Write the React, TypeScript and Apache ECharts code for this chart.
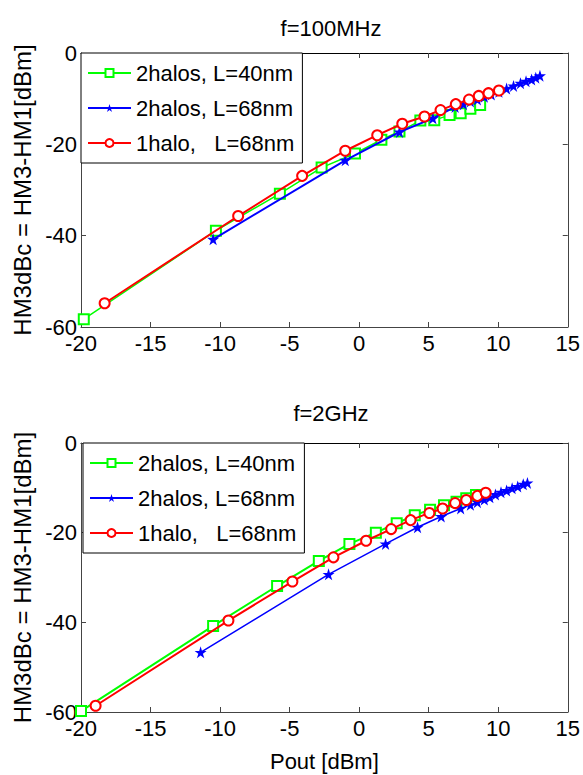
import React, { useEffect, useRef } from "react";
import * as echarts from "echarts";

const NAMES = ["2halos, L=40nm", "2halos, L=68nm", "1halo,   L=68nm"];
const TITLES = ["f=100MHz", "f=2GHz"];
const Y_NAME = "HM3dBc = HM3-HM1[dBm]";
const X_NAME = "Pout [dBm]";

// f=100MHz
const top40: number[][] = [
  [-19.8, -58.3], [-10.3, -38.9], [-5.7, -30.8], [-2.7, -25.1], [-0.3, -22.0],
  [1.6, -19.0], [2.9, -17.2], [4.4, -14.8], [5.4, -14.7], [6.5, -13.6],
  [7.3, -13.2], [8.0, -12.2], [8.7, -11.4],
];
const top68two: number[][] = [
  [-10.5, -40.8], [-1.0, -23.5], [2.9, -17.3], [5.3, -14.3], [6.9, -11.8],
  [7.5, -11.2], [8.0, -10.6], [8.5, -10.2], [9.0, -9.6], [9.5, -9.1],
  [10.05, -8.5], [10.6, -7.8], [11.1, -7.2], [11.6, -6.6], [12.0, -6.2],
  [12.4, -5.8], [12.7, -5.4], [13.0, -5.0],
];
const top68one: number[][] = [
  [-18.3, -54.8], [-8.7, -35.7], [-4.1, -26.9], [-1.0, -21.4], [1.3, -18.0],
  [3.1, -15.5], [4.7, -13.9], [5.85, -12.5], [6.95, -11.2], [7.9, -10.2],
  [8.6, -9.4], [9.3, -8.8], [10.05, -8.2],
];

// f=2GHz
const bot40: number[][] = [
  [-20.0, -59.8], [-10.5, -40.8], [-5.9, -31.9], [-2.9, -26.3], [-0.7, -22.5],
  [1.2, -20.0], [2.7, -17.9], [4.0, -16.1], [5.1, -14.9], [6.1, -13.9],
  [7.0, -13.1], [7.7, -12.3], [8.4, -11.6],
];
const bot68two: number[][] = [
  [-11.4, -46.7], [-2.2, -29.3], [1.9, -22.5], [4.2, -18.8], [5.9, -16.4],
  [7.3, -14.6], [8.0, -13.8], [8.5, -13.2], [9.0, -12.6], [9.4, -12.1],
  [9.8, -11.5], [10.2, -11.0], [10.6, -10.6], [11.0, -10.1], [11.4, -9.7],
  [11.8, -9.2], [12.1, -8.9],
];
const bot68one: number[][] = [
  [-18.95, -58.6], [-9.4, -39.6], [-4.8, -30.9], [-1.85, -25.5], [0.5, -21.8],
  [2.3, -19.2], [3.7, -17.2], [5.05, -15.6], [6.0, -14.6], [6.9, -13.4],
  [7.7, -12.7], [8.5, -11.8], [9.1, -11.1],
];

const COLORS = ["#00ff00", "#0000ff", "#ff0000"];
const STAR =
  "path://M12,0 L14.8,8.6 L24,8.6 L16.6,14 L19.4,22.8 L12,17.4 L4.6,22.8 L7.4,14 L0,8.6 L9.2,8.6 Z";
const FONT = "Liberation Sans";

export default function App() {
  const ref = useRef<HTMLDivElement>(null);
  useEffect(() => {
    if (!ref.current) return;
    const chart = echarts.init(ref.current, null, { renderer: "svg" });
    const axisColor = "#444";
    const grids = [
      { left: 81, top: 53, width: 490, height: 274 },
      { left: 81, top: 443, width: 490, height: 269 },
    ];
    const xAxes: any[] = [];
    const yAxes: any[] = [];
    [0, 1].forEach((g) => {
      xAxes.push({
        type: "value",
        gridIndex: g,
        min: -20,
        max: 15,
        interval: 5,
        position: "bottom",
        splitLine: { show: false },
        axisLine: { onZero: false, lineStyle: { color: axisColor, width: 1 } },
        axisTick: { inside: true, length: 5, lineStyle: { color: axisColor } },
        axisLabel: { fontSize: 22, lineHeight: 16, color: "#000", fontFamily: FONT, margin: 8 },
        name: g === 1 ? X_NAME : "",
        nameLocation: "middle",
        nameGap: 38,
        nameTextStyle: { fontSize: 22, color: "#000", fontFamily: FONT },
      });
      xAxes.push({
        type: "value",
        gridIndex: g,
        min: -20,
        max: 15,
        interval: 5,
        position: "top",
        splitLine: { show: false },
        axisLine: { onZero: false, lineStyle: { color: "#000", width: 1 } },
        axisTick: { inside: true, length: 5, lineStyle: { color: axisColor } },
        axisLabel: { show: false },
      });
      yAxes.push({
        type: "value",
        gridIndex: g,
        min: -60,
        max: 0,
        interval: 20,
        position: "left",
        splitLine: { show: false },
        axisLine: { onZero: false, lineStyle: { color: axisColor, width: 1 } },
        axisTick: { inside: true, length: 5, lineStyle: { color: axisColor } },
        axisLabel: { fontSize: 22, lineHeight: 16, color: "#000", fontFamily: FONT, margin: 4 },
        name: Y_NAME,
        nameLocation: "middle",
        nameGap: 46,
        nameTextStyle: { fontSize: 24, color: "#000", fontFamily: FONT },
      });
      yAxes.push({
        type: "value",
        gridIndex: g,
        min: -60,
        max: 0,
        interval: 20,
        position: "right",
        splitLine: { show: false },
        axisLine: { onZero: false, lineStyle: { color: axisColor, width: 1 } },
        axisTick: { inside: true, length: 5, lineStyle: { color: axisColor } },
        axisLabel: { show: false },
      });
    });

    const mk = (name: string, data: number[][], g: number, idx: number, width: number) => {
      const symbols = ["emptyRect", STAR, "emptyCircle"];
      const sizes = [10, 12, 10];
      return {
        type: "line",
        name,
        data,
        xAxisIndex: g * 2,
        yAxisIndex: g * 2,
        symbol: symbols[idx],
        symbolSize: sizes[idx],
        showSymbol: true,
        color: COLORS[idx],
        itemStyle: { color: COLORS[idx], borderWidth: 1.5 },
        lineStyle: { color: COLORS[idx], width },
        z: 2 + idx,
      };
    };

    const legendCommon = {
      orient: "vertical",
      data: NAMES,
      backgroundColor: "#fff",
      borderColor: "#000",
      borderWidth: 1,
      borderRadius: 0,
      itemWidth: 43,
      itemHeight: 10,
      itemGap: 9,
      selectedMode: false,
      textStyle: { fontSize: 22, color: "#000", fontFamily: FONT, lineHeight: 26 },
    };

    chart.setOption({
      animation: false,
      backgroundColor: "#fff",
      title: [
        {
          text: TITLES[0],
          left: 326,
          top: 12,
          textAlign: "center",
          textStyle: { fontSize: 22, fontWeight: "normal", color: "#000", fontFamily: FONT },
        },
        {
          text: TITLES[1],
          left: 326,
          top: 397,
          textAlign: "center",
          textStyle: { fontSize: 22, fontWeight: "normal", color: "#000", fontFamily: FONT },
        },
      ],
      legend: [
        { ...legendCommon, left: 81, top: 53, padding: [7, 8, 7, 6] },
        { ...legendCommon, left: 83, top: 443, padding: [7, 8, 7, 6] },
      ],
      grid: grids,
      xAxis: xAxes,
      yAxis: yAxes,
      series: [
        mk(NAMES[0], top40, 0, 0, 1.5),
        mk(NAMES[1], top68two, 0, 1, 2),
        mk(NAMES[2], top68one, 0, 2, 2),
        mk(NAMES[0], bot40, 1, 0, 2),
        mk(NAMES[1], bot68two, 1, 1, 1.5),
        mk(NAMES[2], bot68one, 1, 2, 2),
      ],
    });
    return () => chart.dispose();
  }, []);
  return (
    <div
      ref={ref}
      style={{ position: "absolute", left: 0, top: 0, width: 583, height: 775 }}
    />
  );
}
